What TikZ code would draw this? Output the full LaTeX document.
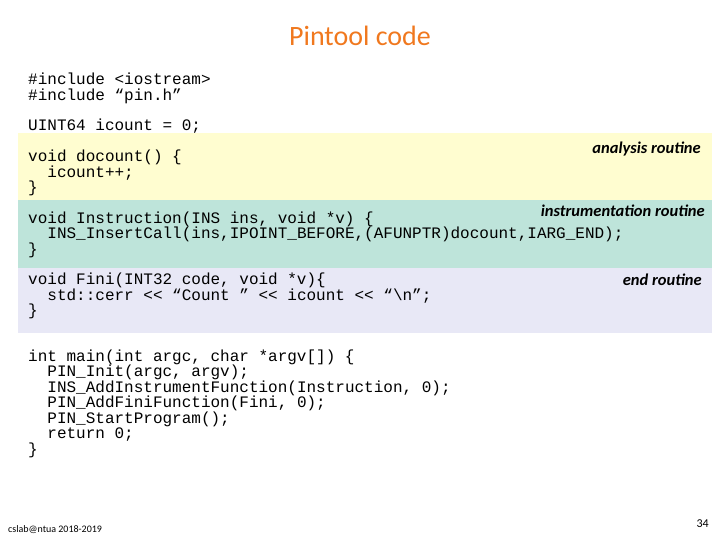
\documentclass[tikz,border=0pt]{standalone}
\usepackage{fontspec}
\setmainfont{Carlito}
\newfontfamily\codefont{Liberation Mono}
\begin{document}
\begin{tikzpicture}[x=1pt,y=-1pt,
 code/.style={anchor=west,inner sep=0pt,text height=9pt,text depth=2.5pt,font=\codefont\fontsize{16}{16}\selectfont},
 lbl/.style={anchor=east,inner sep=0pt,font=\bfseries\itshape\fontsize{16.5}{17}\selectfont}]
\useasboundingbox (0,0) rectangle (720,540);
\fill[fill={rgb,255:red,255;green,253;blue,208}] (18,133) rectangle (712,200);
\fill[fill={rgb,255:red,190;green,228;blue,218}] (18,200) rectangle (712,268);
\fill[fill={rgb,255:red,232;green,232;blue,246}] (18,268) rectangle (712,333);
\node[font=\fontsize{28}{30}\selectfont,text={rgb,255:red,240;green,120;blue,30}] (title) at (360,36) {Pintool code};
\node[code] (l1) at (28,81) {\#include <iostream>};
\node[code] (l2) at (28,97) {\#include “pin.h”};
\node[code] (l3) at (28,127) {UINT64 icount = 0;};
\node[code] (l4) at (28,158) {void docount() \{};
\node[code] (l5) at (28,174) {\ \ icount++;};
\node[code] (l6) at (28,189) {\}};
\node[code] (l7) at (28,220) {void Instruction(INS ins, void *v) \{};
\node[code] (l8) at (28,235) {\ \ INS\_InsertCall(ins,IPOINT\_BEFORE,(AFUNPTR)docount,IARG\_END);};
\node[code] (l9) at (28,251) {\}};
\node[code] (l10) at (28,281) {void Fini(INT32 code, void *v)\{};
\node[code] (l11) at (28,297) {\ \ std::cerr << “Count ” << icount << “\textbackslash n”;};
\node[code] (l12) at (28,312) {\}};
\node[code] (l13) at (28,358) {int main(int argc, char *argv[]) \{};
\node[code] (l14) at (28,373) {\ \ PIN\_Init(argc, argv);};
\node[code] (l15) at (28,389) {\ \ INS\_AddInstrumentFunction(Instruction, 0);};
\node[code] (l16) at (28,404) {\ \ PIN\_AddFiniFunction(Fini, 0);};
\node[code] (l17) at (28,420) {\ \ PIN\_StartProgram();};
\node[code] (l18) at (28,435) {\ \ return 0;};
\node[code] (l19) at (28,451) {\}};
\node[lbl] (a) at (701,149) {analysis routine};
\node[lbl] (b) at (705,211) {instrumentation routine};
\node[lbl] (c) at (702,280) {end routine};
\node[anchor=west,inner sep=0pt,font=\fontsize{10}{12}\selectfont] (f) at (8,530) {cslab@ntua 2018-2019};
\node[anchor=east,inner sep=0pt,font=\fontsize{12}{13}\selectfont] (p) at (709,524) {34};
\end{tikzpicture}
\end{document}
